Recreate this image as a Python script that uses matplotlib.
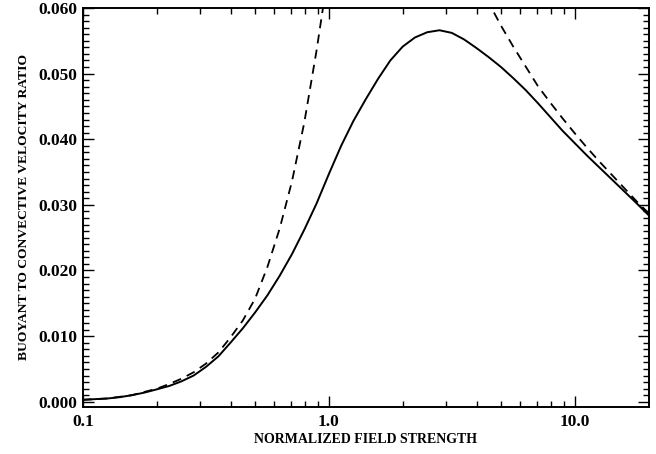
import matplotlib
matplotlib.use("Agg")
import matplotlib.pyplot as plt
from matplotlib.ticker import FixedLocator, MultipleLocator, FuncFormatter

# values (x = field strength, y = velocity ratio)
solid_x = [0.100, 0.112, 0.126, 0.141, 0.158, 0.178, 0.200, 0.224, 0.251,
           0.282, 0.316, 0.355, 0.398, 0.447, 0.501, 0.562, 0.631, 0.708,
           0.794, 0.891, 1.000, 1.122, 1.259, 1.413, 1.585, 1.778, 1.995,
           2.239, 2.512, 2.818, 3.162, 3.548, 3.981, 4.467, 5.012, 5.623,
           6.310, 7.079, 7.943, 8.913, 10.00, 11.22, 12.59, 14.13, 15.85,
           17.78, 20.00]
solid_y = [0.0003, 0.0004, 0.0005, 0.0007, 0.0010, 0.0014, 0.0019, 0.0024,
           0.0031, 0.0040, 0.0053, 0.0069, 0.0090, 0.0112, 0.0136, 0.0162,
           0.0192, 0.0225, 0.0262, 0.0302, 0.0347, 0.0390, 0.0428, 0.0461,
           0.0492, 0.0520, 0.0541, 0.0555, 0.0563, 0.0566, 0.0562, 0.0552,
           0.0539, 0.0525, 0.0510, 0.0493, 0.0475, 0.0455, 0.0434, 0.0413,
           0.0394, 0.0375, 0.0357, 0.0339, 0.0321, 0.0303, 0.0284]

low_x = [0.100, 0.126, 0.158, 0.200, 0.224, 0.251, 0.282, 0.316, 0.355,
         0.398, 0.447, 0.501, 0.562, 0.631, 0.708, 0.794, 0.891, 0.955]
low_y = [0.0003, 0.0005, 0.0010, 0.0020, 0.0027, 0.0035, 0.0045, 0.0058,
         0.0075, 0.0098, 0.0124, 0.0157, 0.0205, 0.0264, 0.0336, 0.0425,
         0.0535, 0.0610]

high_x = [4.365, 4.467, 5.012, 5.623, 6.310, 7.079, 7.943, 8.913, 10.00,
          11.22, 12.59, 14.13, 15.85, 17.78, 20.00]
high_y = [0.0615, 0.0608, 0.0573, 0.0541, 0.0511, 0.0481, 0.0456, 0.0432,
          0.0409, 0.0387, 0.0366, 0.0346, 0.0326, 0.0306, 0.0287]

xticks = [0.1, 1.0, 10.0]
xtick_labels = ["0.1", "1.0", "10.0"]

plt.rcParams['font.family'] = ['Liberation Serif', 'DejaVu Serif']

fig = plt.figure(figsize=(6.56, 4.54), dpi=100)
ax = fig.add_axes([0.1265, 0.1035, 0.8625, 0.879])

ax.plot(solid_x, solid_y, color='black', lw=1.4)
ax.plot(low_x, low_y, color='black', lw=1.3, dashes=(5, 3.5))
ax.plot(high_x, high_y, color='black', lw=1.3, dashes=(5, 3.5))

ax.set_xscale('log')
ax.set_xlim(0.1, 20)
ax.set_ylim(-0.0008, 0.060)

ax.xaxis.set_major_locator(FixedLocator(xticks))
ax.xaxis.set_major_formatter(FuncFormatter(
    lambda v, p: xtick_labels[xticks.index(v)] if v in xticks else ""))
ax.xaxis.set_minor_locator(FixedLocator(
    [m * d for d in (0.1, 1, 10) for m in range(2, 10) if m * d < 20]))
ax.xaxis.set_minor_formatter(FuncFormatter(lambda v, p: ""))
ax.yaxis.set_major_locator(MultipleLocator(0.010))
ax.yaxis.set_minor_locator(MultipleLocator(0.001))
ax.yaxis.set_major_formatter(FuncFormatter(lambda v, p: f"{v:.3f}"))

ax.tick_params(which='both', direction='in', top=True, right=True,
               width=1.0, labelsize=12.5)
ax.tick_params(which='major', length=8)
ax.tick_params(which='minor', length=4)
ax.tick_params(axis='x', pad=5)
ax.tick_params(axis='y', pad=4)
for lab in ax.get_xticklabels() + ax.get_yticklabels():
    lab.set_fontweight('bold')

for s in ax.spines.values():
    s.set_linewidth(1.4)

ax.set_xlabel('NORMALIZED FIELD STRENGTH', fontsize=10, fontweight='bold',
              labelpad=2)
ax.set_ylabel('BUOYANT TO CONVECTIVE VELOCITY RATIO', fontsize=9.7,
              fontweight='bold', labelpad=6)

plt.savefig('out.png', dpi=100)
